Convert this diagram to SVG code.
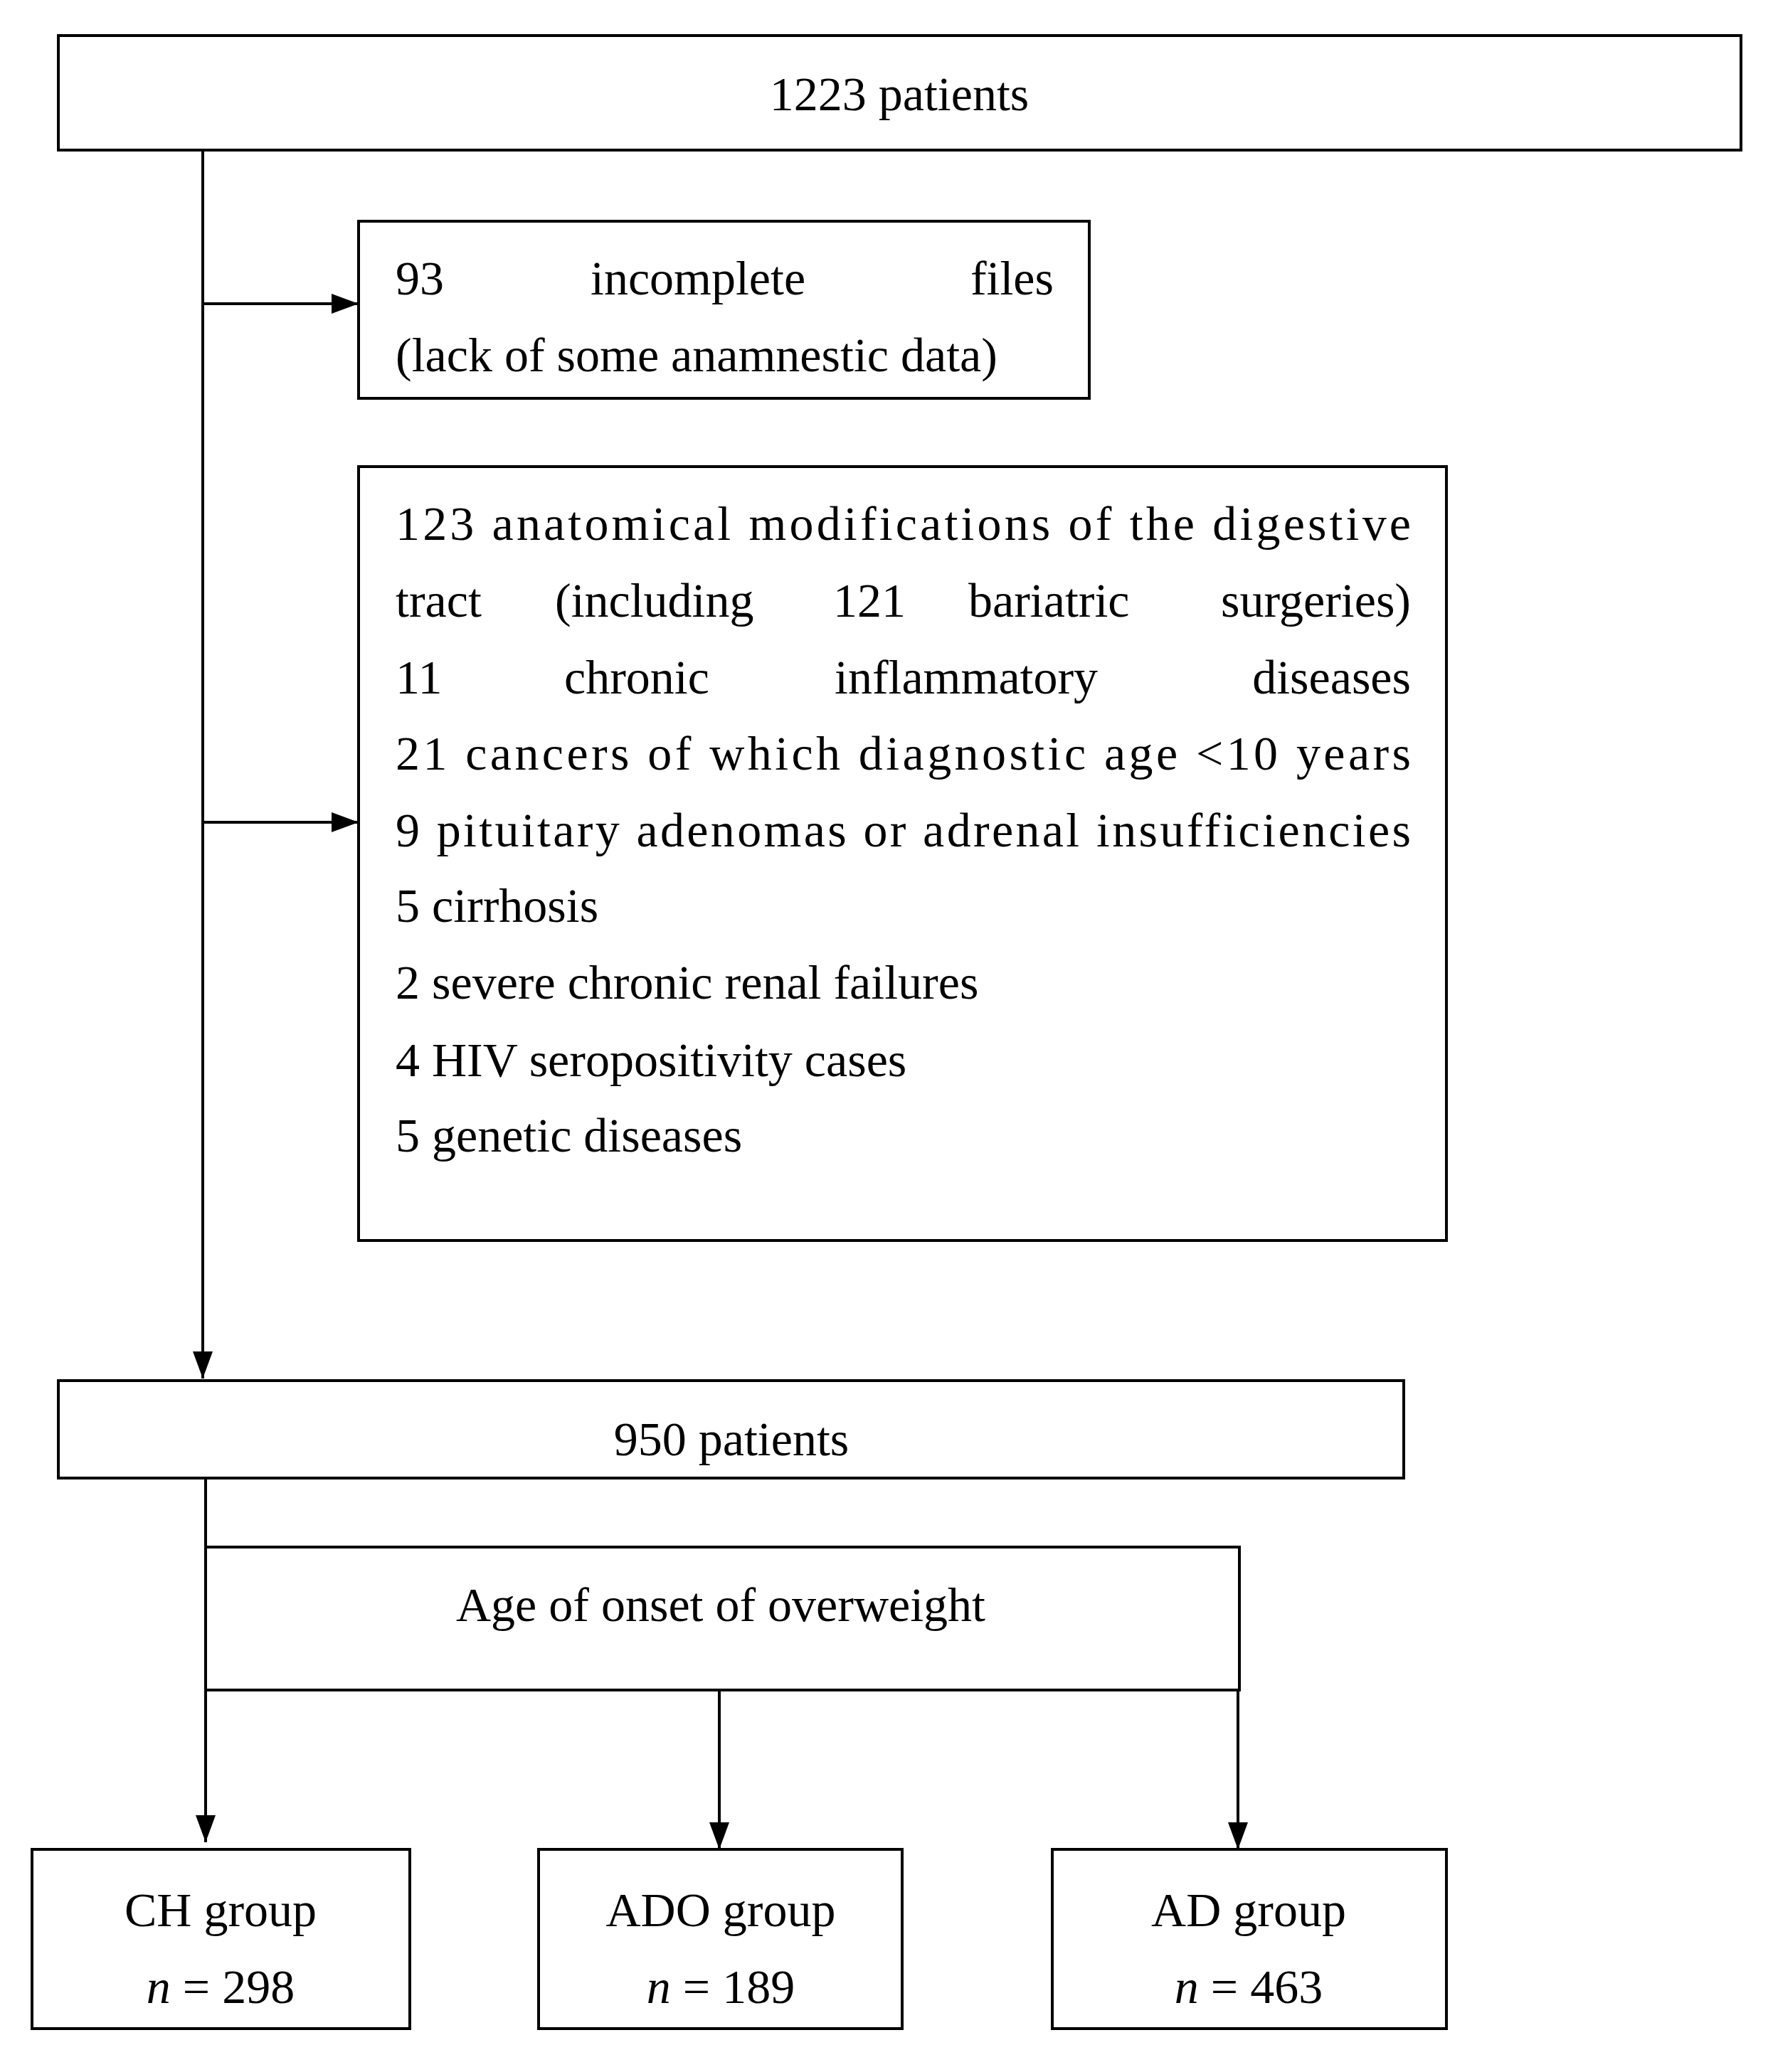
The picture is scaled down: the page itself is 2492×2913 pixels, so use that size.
<svg xmlns="http://www.w3.org/2000/svg" width="2492" height="2913" viewBox="0 0 2492 2913">
<style>
.b{fill:#fff;stroke:#000;stroke-width:4}
.t{font-family:"Liberation Serif","Times New Roman",serif;font-size:68px;fill:#000}
.c{text-anchor:middle}
.l{fill:none;stroke:#000;stroke-width:4}
</style>
<defs>
<marker id="ah" markerWidth="40" markerHeight="40" refX="38" refY="20" orient="auto" markerUnits="userSpaceOnUse"><path d="M0,6L38,20L0,34z"/></marker></defs>
<rect width="2492" height="2913" fill="#fff"/>
<g id="connectors">
<line class="l" x1="285" y1="211" x2="285" y2="1938" marker-end="url(#ah)"/>
<line class="l" x1="285" y1="427" x2="504" y2="427" marker-end="url(#ah)"/>
<line class="l" x1="285" y1="1156" x2="504" y2="1156" marker-end="url(#ah)"/>
<line class="l" x1="289" y1="2078" x2="289" y2="2590" marker-end="url(#ah)"/>
<line class="l" x1="1011" y1="2376" x2="1011" y2="2600" marker-end="url(#ah)"/>
<line class="l" x1="1740" y1="2376" x2="1740" y2="2600" marker-end="url(#ah)"/>
</g>
<g id="n1"><rect class="b" x="82" y="50" width="2365" height="161"/><text class="t c" x="1264" y="155">1223 patients</text></g>
<g id="n2"><rect class="b" x="504" y="311" width="1027" height="249"/>
<text class="t"><tspan x="556" y="414">93</tspan><tspan x="830" y="414">incomplete</tspan><tspan x="1481" y="414" text-anchor="end">files</tspan></text>
<text class="t" x="556" y="522">(lack of some anamnestic data)</text></g>
<g id="n3"><rect class="b" x="504" y="656" width="1529" height="1088"/>
<text class="t" x="556" y="759" textLength="1427" lengthAdjust="spacing">123 anatomical modifications of the digestive</text>
<text class="t"><tspan x="556" y="867">tract</tspan><tspan x="780" y="867">(including</tspan><tspan x="1171" y="867">121</tspan><tspan x="1361" y="867">bariatric</tspan><tspan x="1983" y="867" text-anchor="end">surgeries)</tspan></text>
<text class="t"><tspan x="556" y="975">11</tspan><tspan x="793" y="975">chronic</tspan><tspan x="1173" y="975">inflammatory</tspan><tspan x="1983" y="975" text-anchor="end">diseases</tspan></text>
<text class="t" x="556" y="1082" textLength="1427" lengthAdjust="spacing">21 cancers of which diagnostic age &lt;10 years</text>
<text class="t" x="556" y="1190" textLength="1427" lengthAdjust="spacing">9 pituitary adenomas or adrenal insufficiencies</text>
<text class="t">
<tspan x="556" y="1296">5 cirrhosis</tspan>
<tspan x="556" y="1404">2 severe chronic renal failures</tspan>
<tspan x="556" y="1513">4 HIV seropositivity cases</tspan>
<tspan x="556" y="1619">5 genetic diseases</tspan>
</text></g>
<g id="n4"><rect class="b" x="82" y="1941" width="1891" height="137"/><text class="t c" x="1028" y="2046">950 patients</text></g>
<g id="n5"><rect class="b" x="289" y="2175" width="1453" height="201"/><text class="t c" x="1013" y="2279">Age of onset of overweight</text></g>
<g id="n6"><rect class="b" x="45" y="2600" width="531" height="252"/><text class="t c" x="310" y="2708">CH group</text><text class="t c" x="310" y="2816"><tspan font-style="italic">n</tspan> = 298</text></g>
<g id="n7"><rect class="b" x="757" y="2600" width="511" height="252"/><text class="t c" x="1013" y="2708">ADO group</text><text class="t c" x="1013" y="2816"><tspan font-style="italic">n</tspan> = 189</text></g>
<g id="n8"><rect class="b" x="1479" y="2600" width="554" height="252"/><text class="t c" x="1755" y="2708">AD group</text><text class="t c" x="1755" y="2816"><tspan font-style="italic">n</tspan> = 463</text></g>
</svg>
